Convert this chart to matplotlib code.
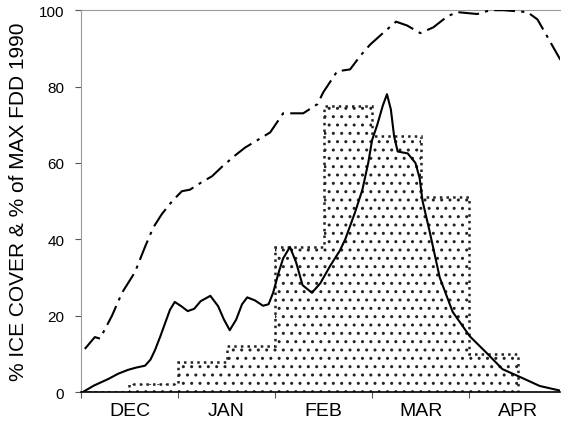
import numpy as np
import matplotlib
matplotlib.use("Agg")
import matplotlib.pyplot as plt

plt.rcParams['font.family'] = ['Liberation Sans', 'DejaVu Sans']

# x in days from Dec 1 (30-day months on the axis)
month_labels = ["DEC", "JAN", "FEB", "MAR", "APR"]
month_starts = [0, 30, 60, 90, 120]

# half-month ice cover histogram
bin_edges = [0, 15, 30, 45, 60, 75, 90, 105, 120, 135]
bin_values = [0, 2, 8, 12, 38, 75, 67, 51, 10]

# solid curve
ice_day = [0.6, 4, 8.4, 11.5, 14.5, 17, 19.8, 21.5, 22.9, 24.5, 26, 27.5, 29, 31, 33,
           35, 37, 40, 42.4, 44.2, 46, 48, 49.8, 51.4, 53.8, 56.3, 58, 59.4, 61, 62.5,
           64.6, 66.5, 68.5, 71.4, 74, 77, 80, 81.7, 84.7, 87, 88.8, 90, 91.6, 93.3,
           94.6, 95.8, 96.8, 97.9, 101, 103.4, 104.7, 105.6, 107.8, 110.9, 114.9,
           120.2, 125.1, 130.3, 135.6, 141.8, 148]
ice_val = [0, 1.7, 3.4, 4.8, 5.8, 6.4, 6.9, 8.5, 11, 14.5, 18, 21.5, 23.6, 22.5, 21.2,
           21.8, 23.8, 25.2, 22.5, 19, 16.2, 19, 23, 24.8, 24, 22.6, 23, 26, 31, 35,
           38, 34, 28, 26, 28.5, 33, 37, 40, 47, 53, 60, 66, 70, 75,
           78, 74, 67, 63, 62.5, 60, 56, 50, 42, 30, 21,
           14.6, 10.5, 6, 4, 1.6, 0.4]

# dash-dot curve (% of max FDD)
fdd_day = [1.2, 4.3, 5.9, 9.6, 12.7, 16.7, 19.8, 22.3, 25, 28.2, 31.2, 33.7, 37.4,
           40.5, 43.6, 47.7, 50.7, 58.5, 62.5, 68.7, 73.1, 74.9, 79.2, 83.2, 86.3,
           89.4, 94, 97.4, 100.8, 104.9, 108.9, 113.3, 116.3, 122.5, 126.5, 130.6,
           138, 141.1, 144.2, 148.2]
fdd_val = [11.3, 14.4, 14, 20, 26, 31.4, 38, 43, 46.6, 50, 52.6, 53, 55,
           56.5, 59, 62, 64, 68, 73, 73, 75.4, 78.5, 84, 84.5, 88,
           91, 94.5, 97, 96, 94, 95.5, 98.4, 99.5, 99, 100, 100,
           99.5, 97.6, 93, 87]

fig = plt.figure(figsize=(5.62, 4.31), dpi=100)
ax = fig.add_axes([0.144, 0.088, 0.852, 0.886])

plt.rcParams['hatch.linewidth'] = 1.0
ax.stairs(bin_values, bin_edges, fill=True, facecolor='white', edgecolor='#222222',
          hatch='..', linewidth=0, zorder=1)
ax.stairs(bin_values, bin_edges, fill=False, color='#222222', linestyle=':',
          linewidth=1.8, zorder=2, baseline=0)

ax.plot(ice_day, ice_val, color='black', linewidth=1.5, zorder=3)
ax.plot(fdd_day, fdd_val, color='black', linewidth=1.5,
        linestyle=(0, (10, 3, 1.5, 3)), zorder=3)

ax.set_xlim(0, 148)
ax.set_ylim(0, 100)
ax.set_yticks([0, 20, 40, 60, 80, 100])
ax.set_xticks(month_starts)
ax.set_xticklabels([])
ax.set_xticks([m + 15 for m in month_starts], minor=True)
ax.set_xticklabels(month_labels, minor=True, fontsize=14)
ax.tick_params(axis='x', which='minor', length=0, pad=7)
ax.tick_params(axis='x', which='major', length=4, direction='out', color='#555555')
ax.tick_params(axis='y', length=4, direction='out', labelsize=11, pad=8, color='#555555')

ax.spines['right'].set_visible(False)
ax.spines['top'].set_color('#999999')
ax.spines['top'].set_linewidth(0.8)
ax.spines['left'].set_color('#999999')
ax.spines['left'].set_linewidth(0.8)
ax.spines['bottom'].set_linewidth(1.2)

ax.set_ylabel("% ICE COVER & % of MAX FDD 1990", fontsize=15, labelpad=8)

fig.savefig("out.png", dpi=100)
